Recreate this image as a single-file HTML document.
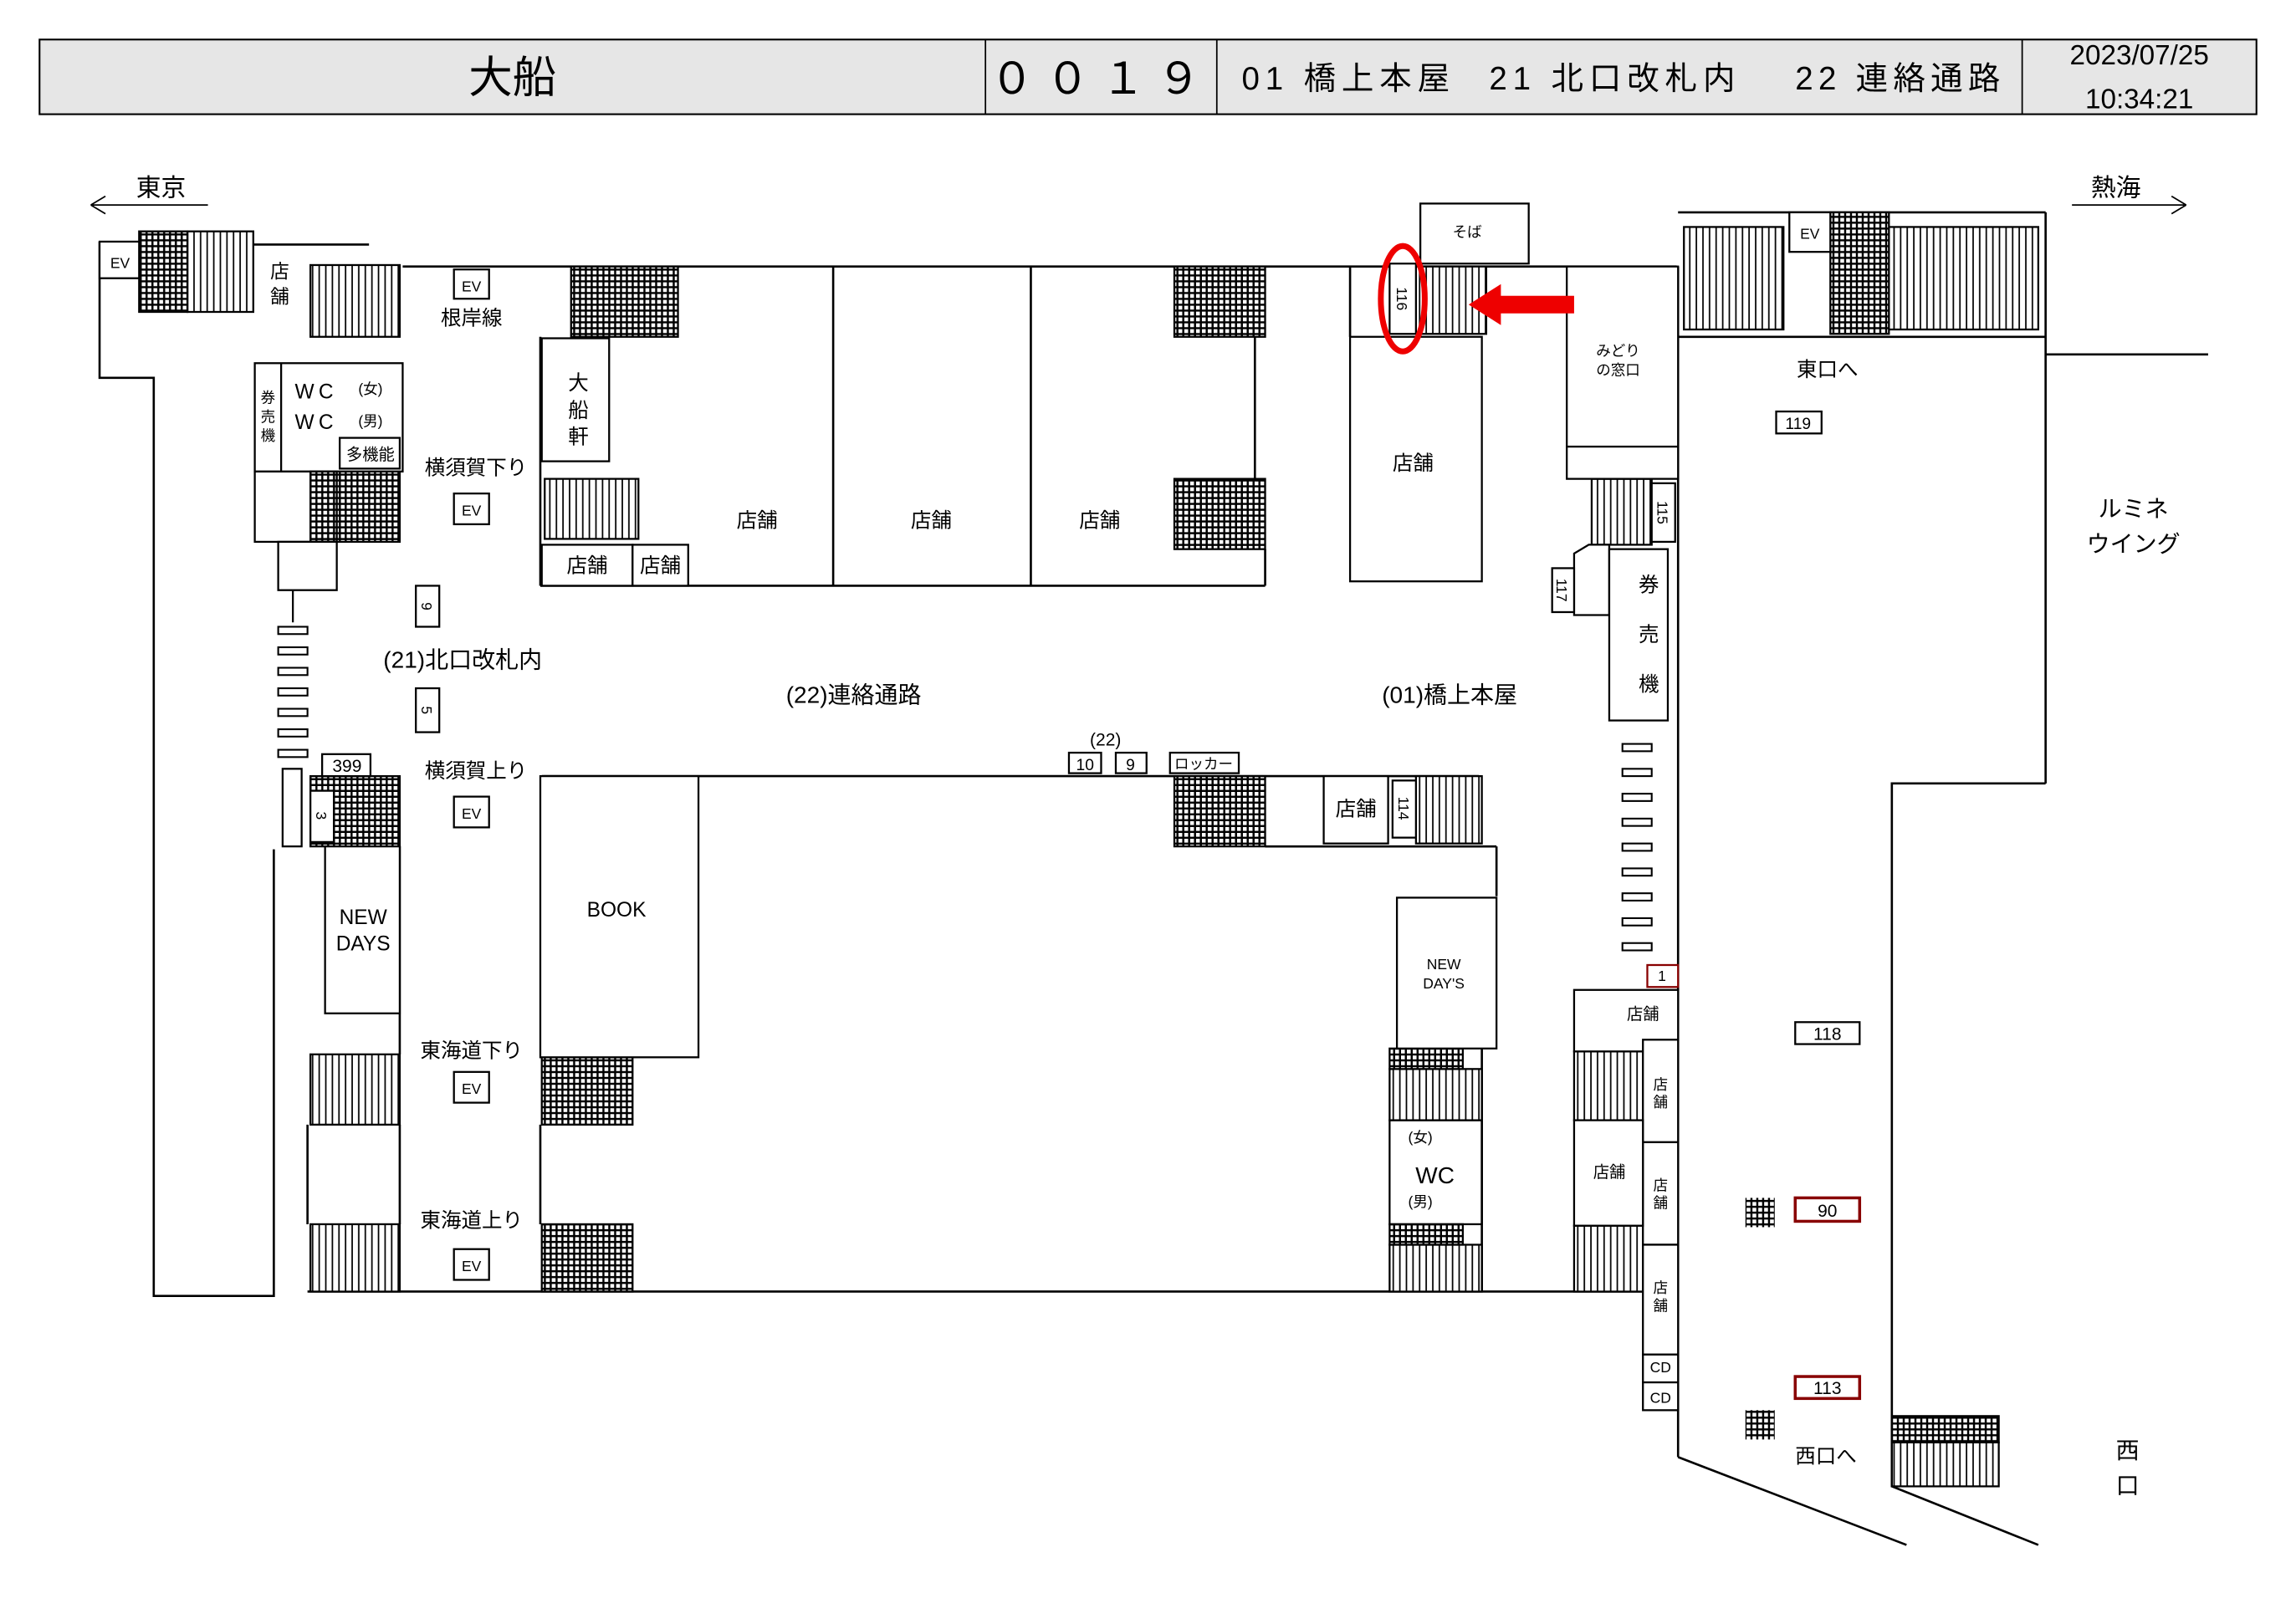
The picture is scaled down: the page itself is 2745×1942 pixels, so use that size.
<!DOCTYPE html>
<html><head><meta charset="utf-8">
<style>
html,body{margin:0;padding:0;background:#fff;}
svg{display:block;}
text{font-family:"Liberation Sans","Noto Sans CJK JP",sans-serif;fill:#000;}
</style></head>
<body>
<svg width="2745" height="1942" viewBox="0 0 1568 1109" preserveAspectRatio="none" xmlns="http://www.w3.org/2000/svg">
<defs>
<pattern id="st" width="4.5" height="10" patternUnits="userSpaceOnUse">
<rect width="4.5" height="10" fill="#fff"/><line x1="2" y1="0" x2="2" y2="10" stroke="#000" stroke-width="1"/>
</pattern>
<pattern id="es" width="4" height="4" patternUnits="userSpaceOnUse">
<rect width="4" height="4" fill="#000"/><rect x="0.8" y="0.8" width="2.6" height="2.6" fill="#fff"/>
</pattern>
</defs>
<rect width="1568" height="1109" fill="#fff"/>
<rect x="27" y="27" width="1514" height="51" fill="#e6e6e6" stroke="#000" stroke-width="1.2"/>
<line x1="673" y1="27" x2="673" y2="78" stroke="#000"/>
<line x1="831" y1="27" x2="831" y2="78" stroke="#000"/>
<line x1="1381" y1="27" x2="1381" y2="78" stroke="#000"/>
<text x="350" y="63" font-size="30" text-anchor="middle">大船</text>
<text x="752" y="64" font-size="30" text-anchor="middle" letter-spacing="8">００１９</text>
<text x="848" y="61" font-size="22" textLength="142" lengthAdjust="spacing">01 橋上本屋</text>
<text x="1017" y="61" font-size="22" textLength="168" lengthAdjust="spacing">21 北口改札内</text>
<text x="1226" y="61" font-size="22" textLength="140" lengthAdjust="spacing">22 連絡通路</text>
<text x="1461" y="44" font-size="19" text-anchor="middle">2023/07/25</text>
<text x="1461" y="74" font-size="19" text-anchor="middle">10:34:21</text>
<text x="110" y="134" font-size="17" text-anchor="middle">東京</text>
<path d="M62 140 H142 M62 140 l10 -6 M62 140 l10 6" stroke="#000" fill="none"/>
<text x="1445" y="134" font-size="17" text-anchor="middle">熱海</text>
<path d="M1415 140 H1493 M1493 140 l-10 -6 M1493 140 l-10 6" stroke="#000" fill="none"/>

<g stroke="#000" stroke-width="1.5" fill="none">
<path d="M68 165 V258 H105 V885 H187 V580"/>
<line x1="173" y1="167" x2="252" y2="167"/>
<line x1="275" y1="182" x2="1145" y2="182"/>
<line x1="210" y1="882" x2="1122" y2="882"/>
<line x1="370" y1="530" x2="1010" y2="530"/>
<line x1="369" y1="400" x2="864" y2="400"/>
<line x1="369" y1="230" x2="369" y2="400"/>
<line x1="569" y1="182" x2="569" y2="400"/>
<line x1="704" y1="182" x2="704" y2="400"/>
<line x1="857" y1="230" x2="857" y2="330"/>
<line x1="864" y1="375" x2="864" y2="400"/>
<line x1="864" y1="578" x2="1022" y2="578"/>
<line x1="1022" y1="578" x2="1022" y2="612"/>
<line x1="273" y1="578" x2="273" y2="720"/>
<line x1="273" y1="768" x2="273" y2="836"/>
<line x1="210" y1="768" x2="210" y2="836"/>
<line x1="369" y1="768" x2="369" y2="836"/>
<line x1="1012" y1="716" x2="1012" y2="882"/>
<line x1="1146" y1="182" x2="1146" y2="995"/>
<line x1="1146" y1="995" x2="1302" y2="1055"/>
<line x1="1397" y1="145" x2="1397" y2="535"/>
<line x1="1397" y1="242" x2="1508" y2="242"/>
<path d="M1397 535 H1292 V1015 L1392 1055"/>
<line x1="1146" y1="145" x2="1397" y2="145"/>
<line x1="1146" y1="230" x2="1397" y2="230"/>
<line x1="922" y1="182" x2="922" y2="230"/>
</g>

<g stroke="#000" stroke-width="1.3">
<rect x="128" y="158" width="45" height="55" fill="url(#st)"/>
<rect x="212" y="181" width="61" height="49" fill="url(#st)"/>
<rect x="372" y="327" width="64" height="41" fill="url(#st)"/>
<rect x="372" y="530" width="64" height="48" fill="url(#st)"/>
<rect x="212" y="720" width="61" height="48" fill="url(#st)"/>
<rect x="212" y="836" width="61" height="46" fill="url(#st)"/>
<rect x="967" y="530" width="45" height="46" fill="url(#st)"/>
<rect x="967" y="182" width="48" height="46" fill="url(#st)"/>
<rect x="1087" y="327" width="41" height="45" fill="url(#st)"/>
<rect x="1075" y="718" width="47" height="47" fill="url(#st)"/>
<rect x="1075" y="837" width="47" height="45" fill="url(#st)"/>
<rect x="949" y="730" width="63" height="35" fill="url(#st)"/>
<rect x="949" y="850" width="63" height="32" fill="url(#st)"/>
<rect x="1150" y="155" width="68" height="70" fill="url(#st)"/>
<rect x="1290" y="155" width="102" height="70" fill="url(#st)"/>
<rect x="1292" y="985" width="73" height="30" fill="url(#st)"/>
<rect x="95" y="158" width="33" height="55" fill="url(#es)"/>
<rect x="390" y="182" width="73" height="48" fill="url(#es)"/>
<rect x="802" y="182" width="62" height="48" fill="url(#es)"/>
<rect x="802" y="327" width="62" height="48" fill="url(#es)"/>
<rect x="212" y="322" width="61" height="48" fill="url(#es)"/>
<rect x="212" y="530" width="61" height="48" fill="url(#es)"/>
<rect x="802" y="530" width="62" height="48" fill="url(#es)"/>
<rect x="370" y="722" width="62" height="46" fill="url(#es)"/>
<rect x="370" y="836" width="62" height="46" fill="url(#es)"/>
<rect x="949" y="716" width="50" height="14" fill="url(#es)"/>
<rect x="949" y="836" width="50" height="14" fill="url(#es)"/>
<rect x="1250" y="145" width="40" height="83" fill="url(#es)"/>
<rect x="1292" y="967" width="73" height="18" fill="url(#es)"/>
</g>

<g stroke="#000" stroke-width="1.3" fill="#fff">
<rect x="68" y="165" width="27" height="25"/>
<rect x="310" y="184" width="24" height="20"/>
<rect x="310" y="337" width="24" height="21"/>
<rect x="310" y="544" width="24" height="21"/>
<rect x="310" y="732" width="24" height="21"/>
<rect x="310" y="853" width="24" height="21"/>
<rect x="370" y="231" width="46" height="84"/>
<rect x="174" y="248" width="101" height="74" fill="none"/>
<line x1="192" y1="248" x2="192" y2="322"/>
<rect x="232" y="299" width="41" height="21"/>
<rect x="174" y="322" width="56" height="48" fill="none"/>
<rect x="370" y="372" width="62" height="28"/>
<rect x="432" y="372" width="38" height="28"/>
<rect x="190" y="370" width="40" height="33"/>
<line x1="200" y1="403" x2="200" y2="425"/>
<rect x="284" y="400" width="16" height="28"/>
<rect x="284" y="470" width="16" height="30"/>
<rect x="220" y="515" width="33" height="15"/>
<rect x="212" y="540" width="16" height="35"/>
<rect x="193" y="525" width="13" height="53"/>
<rect x="222" y="578" width="51" height="114"/>
<rect x="369" y="530" width="108" height="192"/>
<rect x="730" y="514" width="22" height="14"/>
<rect x="762" y="514" width="21" height="14"/>
<rect x="799" y="514" width="47" height="14"/>
<rect x="904" y="530" width="44" height="46"/>
<rect x="951" y="533" width="16" height="39"/>
<rect x="954" y="613" width="68" height="103"/>
<rect x="949" y="765" width="63" height="71" fill="none"/>
<rect x="970" y="139" width="74" height="41"/>
<rect x="949" y="180" width="18" height="48"/>
<rect x="922" y="230" width="90" height="167"/>
<rect x="1070" y="182" width="76" height="123"/>
<rect x="1070" y="305" width="76" height="22"/>
<rect x="1128" y="330" width="16" height="40"/>
<path d="M1075 420 V378 L1085 372 H1099 V420 Z"/>
<rect x="1060" y="388" width="15" height="30"/>
<rect x="1099" y="375" width="40" height="117"/>
<rect x="1125" y="659" width="21" height="15" stroke="#800"/>
<rect x="1075" y="676" width="71" height="42"/>
<rect x="1122" y="710" width="24" height="70"/>
<rect x="1122" y="780" width="24" height="70"/>
<rect x="1122" y="850" width="24" height="75"/>
<rect x="1122" y="925" width="24" height="19"/>
<rect x="1122" y="944" width="24" height="19"/>
<rect x="1075" y="765" width="47" height="72"/>
<rect x="1222" y="145" width="28" height="27"/>
<rect x="1213" y="281" width="31" height="15"/>
<rect x="1226" y="698" width="44" height="15"/>
<rect x="1226" y="818" width="44" height="16" stroke="#800" stroke-width="2"/>
<rect x="1226" y="940" width="44" height="15" stroke="#800" stroke-width="2"/>
</g>
<rect x="1192" y="818" width="20" height="20" fill="url(#es)"/>
<rect x="1192" y="963" width="20" height="20" fill="url(#es)"/>
<g fill="#fff" stroke="#000" stroke-width="1.2">
<rect x="190" y="428" width="20" height="5"/><rect x="190" y="442" width="20" height="5"/><rect x="190" y="456" width="20" height="5"/><rect x="190" y="470" width="20" height="5"/><rect x="190" y="484" width="20" height="5"/><rect x="190" y="498" width="20" height="5"/><rect x="190" y="512" width="20" height="5"/>
<rect x="1108" y="508" width="20" height="5"/><rect x="1108" y="525" width="20" height="5"/><rect x="1108" y="542" width="20" height="5"/><rect x="1108" y="559" width="20" height="5"/><rect x="1108" y="576" width="20" height="5"/><rect x="1108" y="593" width="20" height="5"/><rect x="1108" y="610" width="20" height="5"/><rect x="1108" y="627" width="20" height="5"/><rect x="1108" y="644" width="20" height="5"/>
</g>
<ellipse cx="958" cy="204" rx="15" ry="36" fill="none" stroke="#e00" stroke-width="4"/>
<rect x="1022" y="202" width="53" height="12" fill="#e00"/>
<path d="M1003 208 L1025 194 V222 Z" fill="#e00"/>

<g font-size="14" text-anchor="middle">
<text x="82" y="183" font-size="10">EV</text>
<text x="322" y="199" font-size="10">EV</text>
<text x="322" y="352" font-size="10">EV</text>
<text x="322" y="559" font-size="10">EV</text>
<text x="322" y="747" font-size="10">EV</text>
<text x="322" y="868" font-size="10">EV</text>
<text x="1236" y="163" font-size="10">EV</text>
<text x="191" y="190" font-size="13">店</text><text x="191" y="207" font-size="13">舗</text>
<text x="322" y="222">根岸線</text>
<text x="395" y="266">大</text><text x="395" y="285">船</text><text x="395" y="303">軒</text>
<text x="183" y="275" font-size="10">券</text><text x="183" y="288" font-size="10">売</text><text x="183" y="301" font-size="10">機</text>
<text x="216" y="272" font-size="14" letter-spacing="3">WC</text><text x="253" y="269" font-size="10">(女)</text>
<text x="216" y="293" font-size="14" letter-spacing="3">WC</text><text x="253" y="291" font-size="10">(男)</text>
<text x="253" y="314" font-size="11">多機能</text>
<text x="325" y="324">横須賀下り</text>
<text x="401" y="391">店舗</text><text x="451" y="391">店舗</text>
<text x="517" y="360">店舗</text><text x="636" y="360">店舗</text><text x="751" y="360">店舗</text>
<text x="316" y="456" font-size="16">(21)北口改札内</text>
<text x="583" y="480" font-size="16">(22)連絡通路</text>
<text x="990" y="480" font-size="16">(01)橋上本屋</text>
<text x="237" y="527" font-size="12">399</text>
<text x="325" y="531">横須賀上り</text>
<text x="755" y="509" font-size="12">(22)</text>
<text x="741" y="526" font-size="11">10</text><text x="772" y="526" font-size="11">9</text>
<text x="822" y="525" font-size="10">ロッカー</text>
<text x="248" y="631">NEW</text><text x="248" y="649">DAYS</text>
<text x="421" y="626">BOOK</text>
<text x="926" y="557">店舗</text>
<text x="986" y="662" font-size="10">NEW</text><text x="986" y="675" font-size="10">DAY'S</text>
<text x="322" y="722">東海道下り</text>
<text x="322" y="838">東海道上り</text>
<text x="970" y="780" font-size="10">(女)</text>
<text x="980" y="808" font-size="16">WC</text>
<text x="970" y="824" font-size="10">(男)</text>
<text x="1002" y="162" font-size="10">そば</text>
<text x="965" y="321">店舗</text>
<text x="1105" y="243" font-size="10">みどり</text><text x="1105" y="256" font-size="10">の窓口</text>
<text x="1126" y="404">券</text><text x="1126" y="438">売</text><text x="1126" y="472">機</text>
<text x="1248" y="257">東口へ</text>
<text x="1228" y="293" font-size="11">119</text>
<text x="1457" y="353" font-size="16">ルミネ</text><text x="1457" y="377" font-size="16">ウイング</text>
<text x="1135" y="670" font-size="10">1</text>
<text x="1122" y="696" font-size="11">店舗</text>
<text x="1134" y="744" font-size="10">店</text><text x="1134" y="756" font-size="10">舗</text>
<text x="1134" y="813" font-size="10">店</text><text x="1134" y="825" font-size="10">舗</text>
<text x="1134" y="883" font-size="10">店</text><text x="1134" y="895" font-size="10">舗</text>
<text x="1099" y="804" font-size="11">店舗</text>
<text x="1134" y="937" font-size="10">CD</text><text x="1134" y="958" font-size="10">CD</text>
<text x="1248" y="710" font-size="12">118</text>
<text x="1248" y="831" font-size="12">90</text>
<text x="1248" y="952" font-size="12">113</text>
<text x="1247" y="999">西口へ</text>
<text x="1453" y="996" font-size="16">西</text><text x="1453" y="1020" font-size="16">口</text>
</g>
<g font-size="10" text-anchor="middle">
<text transform="translate(292 414) rotate(90)" y="4">9</text>
<text transform="translate(292 485) rotate(90)" y="4">5</text>
<text transform="translate(220 557) rotate(90)" y="4">3</text>
<text transform="translate(959 552) rotate(90)" y="4">114</text>
<text transform="translate(958 204) rotate(90)" y="4">116</text>
<text transform="translate(1136 350) rotate(90)" y="4">115</text>
<text transform="translate(1067 403) rotate(90)" y="4">117</text>
</g>
</svg>
</body></html>
